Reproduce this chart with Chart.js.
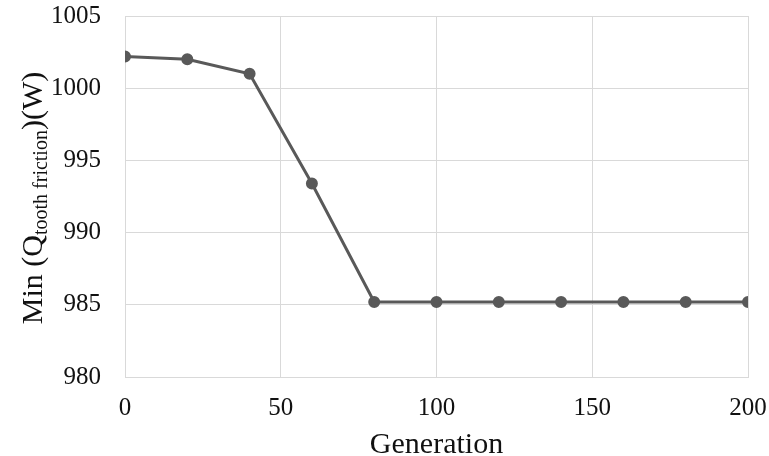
<!DOCTYPE html>
<html>
<head>
<meta charset="utf-8">
<script src="https://cdn.jsdelivr.net/npm/chart.js@4"></script>
<style>
  html, body { margin: 0; padding: 0; background: #fff; }
  #wrap { width: 769px; height: 456px; position: relative; }
</style>
</head>
<body>
<div id="wrap"><canvas id="chart" width="769" height="456"></canvas></div>
<script>
// Data
const generations = [0, 20, 40, 60, 80, 100, 120, 140, 160, 180, 200];
const minFriction = [1002.2, 1002.0, 1001.0, 993.4, 985.2, 985.2, 985.2, 985.2, 985.2, 985.2, 985.2];
const xTicks = [0, 50, 100, 150, 200];
const yTicks = [980, 985, 990, 995, 1000, 1005];

const FONT = "'Liberation Serif', 'Times New Roman', serif";
const LINE = '#595959';
const GRID = '#d9d9d9';
const TEXT = '#111';

// Axis titles: y title has a subscript so both are drawn by hand
const titlesPlugin = {
  id: 'titles',
  afterDraw(chart) {
    const ctx = chart.ctx;
    const area = chart.chartArea;
    ctx.save();
    ctx.fillStyle = TEXT;
    ctx.textBaseline = 'alphabetic';

    // x title
    ctx.font = '30px ' + FONT;
    ctx.textAlign = 'center';
    ctx.fillText('Generation', (area.left + area.right) / 2, 453);

    // y title
    ctx.textAlign = 'left';
    const parts = [
      { t: 'Min (Q', size: 30, dy: 0 },
      { t: 'tooth friction', size: 20, dy: 5 },
      { t: ')(W)', size: 30, dy: 0 }
    ];
    let total = 0;
    parts.forEach(p => {
      ctx.font = p.size + 'px ' + FONT;
      p.w = ctx.measureText(p.t).width;
      total += p.w;
    });
    ctx.translate(42, 198);
    ctx.rotate(-Math.PI / 2);
    let x = -total / 2;
    parts.forEach(p => {
      ctx.font = p.size + 'px ' + FONT;
      ctx.fillText(p.t, x, p.dy);
      x += p.w;
    });
    ctx.restore();
  }
};

function noPadding(axis) {
  axis.paddingTop = 0;
  axis.paddingBottom = 0;
  axis.paddingLeft = 0;
  axis.paddingRight = 0;
}

new Chart(document.getElementById('chart'), {
  type: 'line',
  data: {
    datasets: [{
      data: generations.map((g, i) => ({ x: g, y: minFriction[i] })),
      borderColor: LINE,
      backgroundColor: LINE,
      borderWidth: 3,
      pointRadius: 4.5,
      pointBackgroundColor: LINE,
      pointBorderColor: LINE,
      tension: 0
    }]
  },
  options: {
    responsive: false,
    animation: false,
    layout: { padding: { top: 16, right: 21, left: 0, bottom: 0 } },
    plugins: { legend: { display: false }, tooltip: { enabled: false } },
    scales: {
      x: {
        type: 'linear',
        min: 0,
        max: 200,
        afterBuildTicks: axis => { axis.ticks = xTicks.map(v => ({ value: v })); },
        grid: { color: GRID, lineWidth: 1, drawTicks: false },
        border: { color: GRID },
        ticks: { color: TEXT, font: { family: FONT, size: 25 }, padding: 16, callback: v => String(v) },
        afterFit: axis => { axis.height = 79; noPadding(axis); }
      },
      y: {
        min: 980,
        max: 1005,
        afterBuildTicks: axis => { axis.ticks = yTicks.map(v => ({ value: v })); },
        grid: { color: GRID, lineWidth: 1, drawTicks: false },
        border: { color: GRID },
        ticks: { color: TEXT, font: { family: FONT, size: 25 }, padding: 24, callback: v => String(v) },
        afterFit: axis => { axis.width = 125; noPadding(axis); }
      }
    }
  },
  plugins: [titlesPlugin]
});
</script>
</body>
</html>
